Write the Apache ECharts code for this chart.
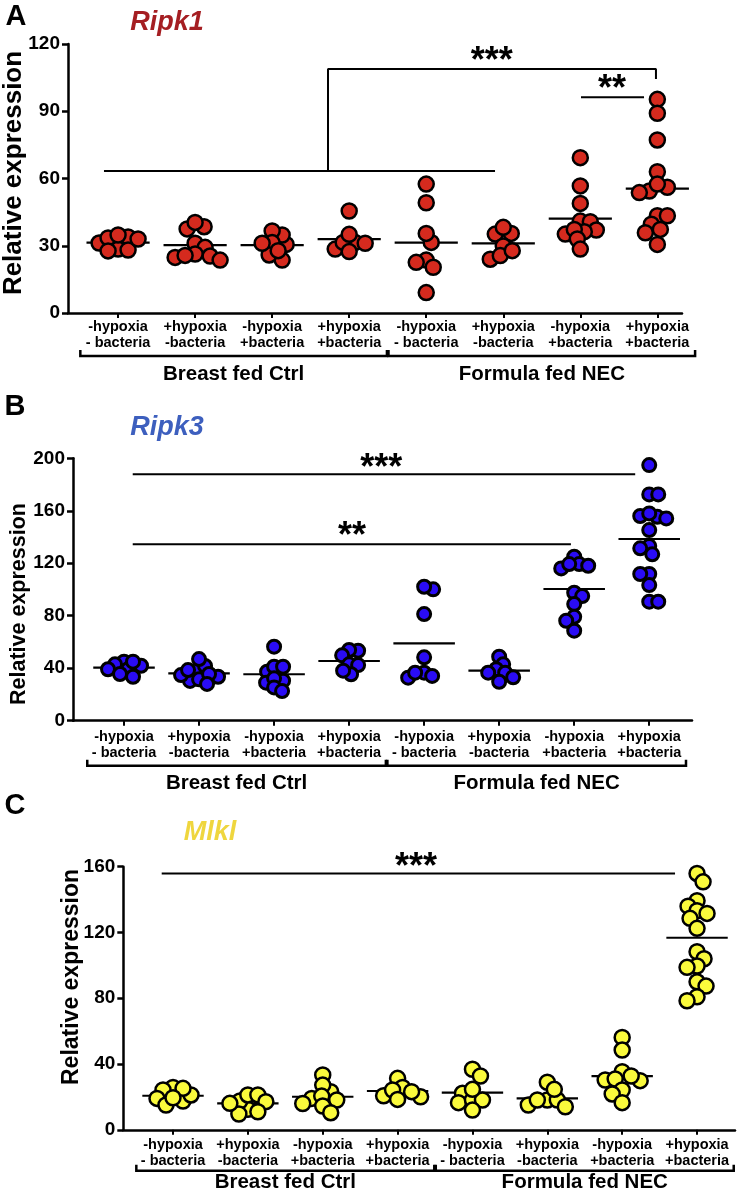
<!DOCTYPE html>
<html><head><meta charset="utf-8">
<script src="https://cdn.jsdelivr.net/npm/echarts@6/dist/echarts.min.js"></script>
<style>html,body{margin:0;padding:0;background:#fff}#c{width:747px;height:1193px}</style>
</head><body><div id="c"></div>
<script>
// ---------------- DATA ----------------
const catLabels = ['-hypoxia\n- bacteria', '+hypoxia\n-bacteria', '-hypoxia\n+bacteria', '+hypoxia\n+bacteria',
                   '-hypoxia\n- bacteria', '+hypoxia\n-bacteria', '-hypoxia\n+bacteria', '+hypoxia\n+bacteria'];
const groupNames = ['Breast fed Ctrl', 'Formula fed NEC'];
const panelLetters = ['A', 'B', 'C'];
const geneNames = ['Ripk1', 'Ripk3', 'Mlkl'];
const yAxisTitle = 'Relative expression';

const ripk1Values = [
  [28.5, 33.9, 31.2, 33.5, 34.8, 28.1, 33.0, 27.7],
  [37.5, 38.5, 40.4, 31.1, 29.3, 24.8, 25.4, 26.3, 23.6, 25.7],
  [30.6, 23.6, 34.8, 36.6, 31.4, 25.9, 27.8, 31.1],
  [45.5, 28.5, 31.5, 31.1, 31.5, 35.1, 27.4],
  [57.5, 49.2, 31.5, 35.5, 23.6, 20.4, 22.6, 9.1],
  [35.2, 35.5, 38.2, 29.9, 24.0, 25.6, 27.8],
  [69.3, 56.7, 48.9, 41.0, 40.7, 37.0, 35.2, 36.3, 37.3, 33.0, 28.5],
  [95.3, 89.1, 77.2, 63.0, 56.1, 54.4, 53.7, 57.5, 43.4, 43.4, 39.6, 37.3, 35.8, 30.6]
];
const ripk1Means = [31.4, 30.3, 30.3, 33.0, 31.4, 31.1, 42.1, 55.5];

const ripk3Values = [
  [41.9, 45.0, 39.2, 43.0, 39.2, 45.0, 33.5, 35.6],
  [38.6, 41.7, 47.0, 30.3, 34.8, 38.6, 31.5, 33.5, 35.6, 28.0],
  [56.4, 37.3, 41.1, 41.1, 30.5, 29.0, 32.3, 25.4, 22.6],
  [53.3, 53.9, 49.8, 43.0, 42.4, 35.4, 38.1],
  [100.1, 102.1, 81.3, 48.3, 32.8, 36.6, 34.1, 36.6],
  [48.8, 43.0, 39.2, 36.6, 33.1, 36.6, 29.7],
  [125.0, 119.4, 116.1, 118.1, 119.4, 97.5, 95.0, 88.9, 79.2, 76.2, 68.6],
  [194.8, 172.5, 172.5, 155.4, 156.0, 158.0, 154.2, 145.3, 133.1, 126.8, 131.4, 111.8, 111.8, 103.4, 90.7, 90.7]
];
const ripk3Means = [40.4, 36.1, 35.4, 45.5, 59.0, 38.1, 100.4, 138.5];

const mlklValues = [
  [25.8, 24.2, 17.5, 19.1, 21.2, 25.2, 15.1, 19.5],
  [12.5, 17.5, 21.2, 21.2, 17.1, 9.6, 11.0, 16.1],
  [33.3, 19.1, 23.2, 27.2, 20.5, 18.1, 14.5, 10.4, 16.0],
  [31.3, 25.8, 20.1, 20.7, 24.2, 18.5, 23.2],
  [36.8, 32.7, 22.2, 16.5, 18.1, 18.1, 24.6, 12.0],
  [28.9, 15.1, 18.1, 18.1, 18.1, 24.6, 14.0],
  [56.2, 48.5, 35.3, 29.9, 30.3, 32.7, 30.9, 24.2, 21.8, 16.5],
  [155.9, 150.8, 139.3, 136.0, 133.2, 131.6, 128.6, 122.5, 108.3, 104.0, 99.6, 98.8, 90.0, 87.4, 80.9, 78.5]
];
const mlklMeans = [20.7, 16.1, 20.1, 23.6, 22.6, 19.1, 32.7, 116.8];

const yMaxes = [120, 200, 160];
const yIntervals = [30, 40, 40];

// ---------------- LAYOUT / STYLE ----------------
const FONT = '"Liberation Sans", Arial, sans-serif';
const panels = [
  { values: ripk1Values, means: ripk1Means, fill: '#D52A1E', titleColor: '#A51E22',
    left: 68, top: 44, width: 614, height: 269, xMin: 0.35, xMax: 8.32, size: 15, border: 2.5,
    labelMargin: 6, bracketOff: 43, groupOff: 61,
    letterPos: [16, 17], titlePos: [167, 23], yTitlePos: [14, 173], yTitleSize: 26,
    sig: [ [[0.817, 63.3], [5.893, 63.3]],
           [[3.725, 63.3], [3.725, 108.8], [7.982, 108.8], [7.982, 104.4]],
           [[7.009, 96.3], [7.827, 96.3]] ],
    stars: [['***', 5.85, 115.1], ['**', 7.41, 102.4]] },
  { values: ripk3Values, means: ripk3Means, fill: '#2A0CF5', titleColor: '#3D5FBE',
    left: 73, top: 458.3, width: 619, height: 262.4, xMin: 0.32, xMax: 8.57, size: 13, border: 3,
    labelMargin: 8, bracketOff: 45, groupOff: 63,
    letterPos: [15, 407], titlePos: [167, 428], yTitlePos: [19, 604], yTitleSize: 21.5,
    sig: [ [[1.116, 187.8], [7.813, 187.8]],
           [[1.116, 134.4], [6.956, 134.4]] ],
    stars: [['***', 4.427, 197.4], ['**', 4.04, 145.3]] },
  { values: mlklValues, means: mlklMeans, fill: '#FAFA3C', titleColor: '#EFD63E',
    left: 123.3, top: 866.7, width: 611.7, height: 263.1, xMin: 0.336, xMax: 8.507, size: 15, border: 2.5,
    labelMargin: 7, bracketOff: 41, groupOff: 53,
    letterPos: [15, 806], titlePos: [210, 833], yTitlePos: [72, 977], yTitleSize: 23,
    sig: [ [[0.849, 155.9], [7.706, 155.9]] ],
    stars: [['***', 4.246, 163.6]] }
];

// beeswarm-style horizontal layout (pixel space) so dots do not stack
function swarm(vals, pxPerX, pxPerY, d, maxPx) {
  const placed = [];
  const out = new Array(vals.length).fill(0);
  const order = vals.map((v, i) => i).sort((a, b) => vals[b] - vals[a]);
  let flip = 1;
  for (const i of order) {
    const y = vals[i] * pxPerY;
    let best = null;
    for (let s = 0; s <= maxPx && best === null; s += 1) {
      const cands = s === 0 ? [0] : [flip * s, -flip * s];
      for (const c of cands) {
        if (placed.every(p => Math.hypot(p.x - c, p.y - y) >= d)) { best = c; break; }
      }
    }
    if (best === null) best = 0;
    if (best !== 0) flip = -Math.sign(best);
    placed.push({ x: best, y });
    out[i] = best / pxPerX;
  }
  return out;
}

const chart = echarts.init(document.getElementById('c'), null, { width: 747, height: 1193 });
const grids = [], xAxes = [], yAxes = [], series = [];
const ticks = [1, 2, 3, 4, 5, 6, 7, 8];

panels.forEach((p, pi) => {
  grids.push({ left: p.left, top: p.top, width: p.width, height: p.height, containLabel: false, outerBoundsMode: 'none' });
  xAxes.push({
    type: 'value', gridIndex: pi, min: p.xMin, max: p.xMax,
    splitLine: { show: false },
    axisLine: { show: true, onZero: false, lineStyle: { color: '#000', width: 2.5 } },
    axisTick: { show: true, customValues: ticks, length: 5, lineStyle: { color: '#000', width: 2 } },
    axisLabel: { show: true, customValues: ticks, hideOverlap: false, showMinLabel: true, showMaxLabel: true,
      formatter: v => catLabels[Math.round(v) - 1] || '',
      fontFamily: FONT, fontWeight: 'bold', fontSize: 14.5, lineHeight: 16, color: '#000', margin: p.labelMargin }
  });
  yAxes.push({
    type: 'value', gridIndex: pi, min: 0, max: yMaxes[pi], interval: yIntervals[pi],
    splitLine: { show: false },
    axisLine: { show: true, lineStyle: { color: '#000', width: 2.5 } },
    axisTick: { show: true, length: 6, lineStyle: { color: '#000', width: 2.5 } },
    axisLabel: { fontFamily: FONT, fontWeight: 'bold', fontSize: 19, color: '#000', margin: 8 }
  });
  const pxPerX = p.width / (p.xMax - p.xMin);
  const pxPerY = p.height / yMaxes[pi];
  const pts = [];
  p.values.forEach((g, gi) => {
    const dx = swarm(g, pxPerX, pxPerY, p.size * 0.66, 30);
    g.forEach((v, k) => pts.push([gi + 1 + dx[k], v]));
  });
  // mean lines
  series.push({
    type: 'custom', xAxisIndex: pi, yAxisIndex: pi, z: 2,
    data: p.means.map((m, i) => [i + 1, m]),
    renderItem: (params, api) => {
      const c = api.value(0), m = api.value(1);
      const a = api.coord([c - 0.41, m]), b = api.coord([c + 0.41, m]);
      return { type: 'line', shape: { x1: a[0], y1: a[1], x2: b[0], y2: b[1] }, style: { stroke: '#000', lineWidth: 2.2 } };
    }
  });
  series.push({
    type: 'scatter', xAxisIndex: pi, yAxisIndex: pi, z: 3, data: pts,
    symbol: 'circle', symbolSize: p.size,
    itemStyle: { color: p.fill, borderColor: '#000', borderWidth: p.border, opacity: 1 }
  });
  p.sig.forEach(path => series.push({
    type: 'line', xAxisIndex: pi, yAxisIndex: pi, z: 4, data: path, symbol: 'none', clip: false,
    lineStyle: { color: '#000', width: 2 }, silent: true
  }));
});

chart.setOption({
  animation: false, backgroundColor: '#fff',
  grid: grids, xAxis: xAxes, yAxis: yAxes, series
});

// ---------------- DECORATIONS (positioned through the axes) ----------------
const graphic = [];
panels.forEach((p, pi) => {
  const px = (x, y) => chart.convertToPixel({ xAxisIndex: pi, yAxisIndex: pi }, [x, y]);
  const axisY = px(1, 0)[1];
  graphic.push({ type: 'text', x: p.letterPos[0], y: p.letterPos[1],
    style: { text: panelLetters[pi], fontFamily: FONT, fontWeight: 'bold', fontSize: 29, fill: '#000', align: 'center', verticalAlign: 'middle' } });
  graphic.push({ type: 'text', x: p.titlePos[0], y: p.titlePos[1],
    style: { text: geneNames[pi], fontFamily: FONT, fontWeight: 'bold', fontStyle: 'italic', fontSize: 27, fill: p.titleColor, align: 'center', verticalAlign: 'middle' } });
  graphic.push({ type: 'text', x: p.yTitlePos[0], y: p.yTitlePos[1], rotation: Math.PI / 2,
    style: { text: yAxisTitle, fontFamily: FONT, fontWeight: 'bold', fontSize: p.yTitleSize, fill: '#000', align: 'center', verticalAlign: 'middle' } });
  // significance stars
  p.stars.forEach(s => {
    const q = px(s[1], s[2]);
    graphic.push({ type: 'text', x: q[0], y: q[1] + 7, z: 10,
      style: { text: s[0], fontFamily: FONT, fontWeight: 'bold', fontSize: 36, fill: '#000', align: 'center', verticalAlign: 'middle' } });
  });
  // group brackets + labels
  [[1, 4], [5, 8]].forEach((rg, k) => {
    const x1 = px(rg[0] - 0.49, 0)[0], x2 = px(rg[1] + 0.49, 0)[0];
    const by = axisY + p.bracketOff;
    graphic.push({ type: 'polyline', shape: { points: [[x1, by - 6], [x1, by], [x2, by], [x2, by - 6]] },
      style: { stroke: '#000', lineWidth: 2.5, fill: null } });
    graphic.push({ type: 'text', x: (x1 + x2) / 2, y: axisY + p.groupOff,
      style: { text: groupNames[k], fontFamily: FONT, fontWeight: 'bold', fontSize: 20.5, fill: '#000', align: 'center', verticalAlign: 'middle' } });
  });
});
chart.setOption({ graphic });
</script>
</body></html>
